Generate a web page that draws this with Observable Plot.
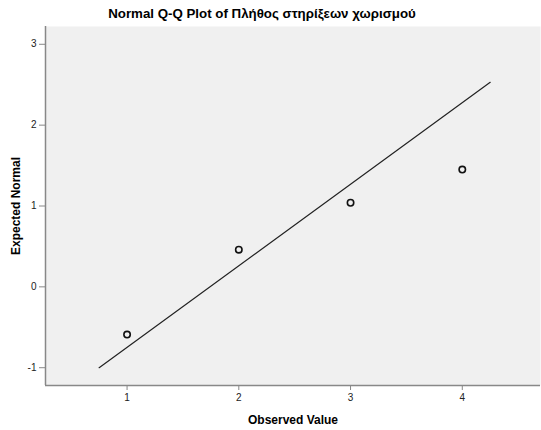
<!DOCTYPE html>
<html>
<head>
<meta charset="utf-8">
<script src="https://cdn.jsdelivr.net/npm/d3@7"></script>
<script src="https://cdn.jsdelivr.net/npm/@observablehq/plot@0.6"></script>
<style>
  body { margin: 0; background: #fff; font-family: "Liberation Sans", Arial, sans-serif; }
  #title { height: 22px; width: 541px; font-size: 13.3px; font-weight: bold; color: #000; position: relative; }
  #title span { position: absolute; left: 262px; top: 6px; transform: translateX(-50%); white-space: nowrap; }
</style>
</head>
<body>
<div id="title"><span>Normal Q-Q Plot of Πλήθος στηρίξεων χωρισμού</span></div>
<div id="chart"></div>
<script>
const observed = [1, 2, 3, 4];
const expected = [-0.59, 0.46, 1.04, 1.45];
const lineX = [0.75, 4.25];
const lineY = [-1.0, 2.53];
const xTicks = [1, 2, 3, 4];
const yTicks = [-1, 0, 1, 2, 3];

const points = observed.map((x, i) => ({x, y: expected[i]}));
const line = lineX.map((x, i) => ({x, y: lineY[i]}));
const fmt = d => String(d);

const chart = Plot.plot({
  width: 541,
  height: 408,
  marginTop: 4,
  marginBottom: 45,
  marginLeft: 45,
  marginRight: 1,
  style: {fontFamily: "'Liberation Sans', Arial, sans-serif", fontSize: "10px", color: "#222", background: "#fff"},
  x: {domain: [0.27, 4.70]},
  y: {domain: [-1.22, 3.22]},
  marks: [
    Plot.frame({fill: "#f0f0f0", stroke: null}),
    Plot.axisX({ticks: xTicks, tickFormat: fmt, tickSize: 5, tickPadding: 3, stroke: "#888", label: null}),
    Plot.axisY({ticks: yTicks, tickFormat: fmt, tickSize: 6, tickPadding: 3, stroke: "#888", label: null}),
    Plot.axisX({ticks: [], label: "Observed Value", labelAnchor: "center", labelArrow: "none", labelOffset: 38}),
    Plot.axisY({ticks: [], label: "Expected Normal", labelAnchor: "center", labelArrow: "none", labelOffset: 34}),
    Plot.ruleX([0.27], {stroke: "#888", strokeWidth: 1.5}),
    Plot.ruleY([-1.22], {stroke: "#888", strokeWidth: 1.5}),
    Plot.line(line, {x: "x", y: "y", stroke: "#222", strokeWidth: 1.2}),
    Plot.dot(points, {x: "x", y: "y", r: 3.2, stroke: "#111", strokeWidth: 1.6, fill: "none"})
  ]
});
document.getElementById("chart").appendChild(chart);
chart.querySelectorAll("g[aria-label='x-axis label'] text, g[aria-label='y-axis label'] text").forEach(t => {
  t.setAttribute("font-weight", "bold");
  t.style.fontSize = "12px";
  t.setAttribute("fill", "#000");
});
</script>
</body>
</html>
